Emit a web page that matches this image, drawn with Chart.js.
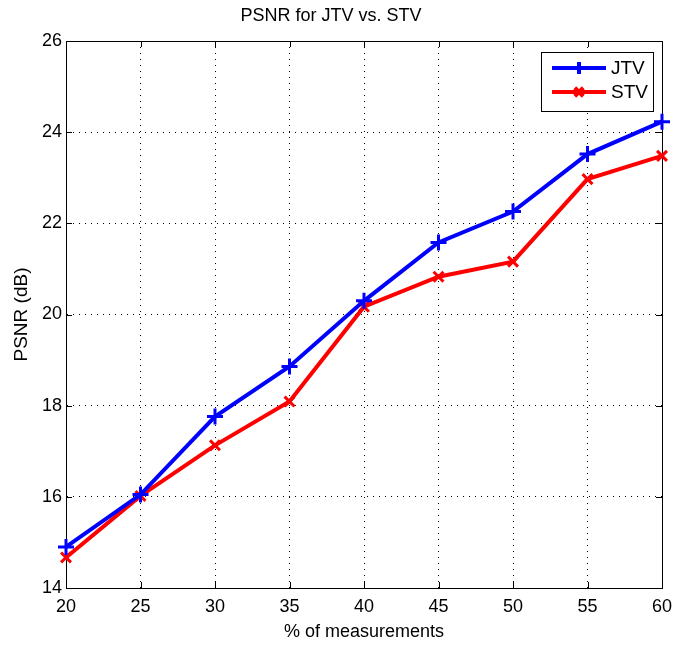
<!DOCTYPE html>
<html lang="en">
  <head>
    <meta charset="UTF-8" />
    <title>PSNR for JTV vs. STV</title>
    <script src="https://cdn.jsdelivr.net/npm/chart.js@4.4.0/dist/chart.umd.min.js"></script>
    <style>
      body { margin: 0; background: #fff; }
      #wrap { width: 675px; height: 648px; }
    </style>
  </head>
  <body>
    <div id="wrap"><canvas id="chart" width="675" height="648"></canvas></div>
    <script>
      // % of measurements
      const percent = [20, 25, 30, 35, 40, 45, 50, 55, 60];
      // PSNR (dB)
      const jtv = [14.9, 16.05, 17.76, 18.86, 20.3, 21.58, 22.26, 23.52, 24.23];
      const stv = [14.67, 16.02, 17.13, 18.09, 20.17, 20.83, 21.16, 22.97, 23.48];
      const xTicks = [20, 25, 30, 35, 40, 45, 50, 55, 60];
      const yTicks = [14, 16, 18, 20, 22, 24, 26];

      const sans = "'Liberation Sans', Arial, Helvetica, sans-serif";

      // matlab style box, inner ticks and legend
      const matlabBox = {
        id: 'matlabBox',
        beforeDatasetsDraw(chart) {
          const { ctx, chartArea: a, scales } = chart;
          ctx.save();
          ctx.strokeStyle = '#000';
          ctx.lineWidth = 1;
          ctx.setLineDash([]);
          ctx.strokeRect(a.left + 0.5, a.top + 0.5, a.right - a.left, a.bottom - a.top);
          const tl = 6;
          ctx.beginPath();
          xTicks.forEach(v => {
            const x = Math.round(scales.x.getPixelForValue(v)) + 0.5;
            ctx.moveTo(x, a.bottom); ctx.lineTo(x, a.bottom - tl);
            ctx.moveTo(x, a.top); ctx.lineTo(x, a.top + tl);
          });
          yTicks.forEach(v => {
            const y = Math.round(scales.y.getPixelForValue(v)) + 0.5;
            ctx.moveTo(a.left, y); ctx.lineTo(a.left + tl, y);
            ctx.moveTo(a.right, y); ctx.lineTo(a.right - tl, y);
          });
          ctx.stroke();
          ctx.restore();
        },
        afterDatasetsDraw(chart) {
          const { ctx } = chart;
          const bx = 541, by = 52, bw = 112, bh = 59;
          ctx.save();
          ctx.fillStyle = '#fff';
          ctx.fillRect(bx, by, bw, bh);
          ctx.strokeStyle = '#000';
          ctx.lineWidth = 1;
          ctx.strokeRect(bx + 0.5, by + 0.5, bw, bh);
          chart.data.datasets.forEach((ds, i) => {
            const y = 68 + i * 24;
            ctx.strokeStyle = ds.borderColor;
            ctx.lineWidth = 4;
            ctx.beginPath();
            ctx.moveTo(552, y); ctx.lineTo(606, y);
            ctx.stroke();
            Chart.helpers.drawPoint(ctx, {
              pointStyle: ds.pointStyle, radius: 6, borderWidth: 3
            }, 579, y);
            ctx.fillStyle = '#000';
            ctx.font = '19px ' + sans;
            ctx.textBaseline = 'middle';
            ctx.textAlign = 'left';
            ctx.fillText(ds.label, 611, y + 1);
          });
          ctx.restore();
        }
      };

      const ctx = document.getElementById('chart').getContext('2d');
      const chart = new Chart(ctx, {
        type: 'line',
        data: {
          datasets: [
            {
              label: 'JTV',
              data: percent.map((p, i) => ({ x: p, y: jtv[i] })),
              borderColor: '#0000ff',
              backgroundColor: '#0000ff',
              pointStyle: 'cross',
              pointRadius: 8,
              pointBorderWidth: 3,
              borderWidth: 4,
              tension: 0,
              clip: false
            },
            {
              label: 'STV',
              data: percent.map((p, i) => ({ x: p, y: stv[i] })),
              borderColor: '#ff0000',
              backgroundColor: '#ff0000',
              pointStyle: 'crossRot',
              pointRadius: 7,
              pointBorderWidth: 3,
              borderWidth: 4,
              tension: 0,
              clip: false
            }
          ]
        },
        options: {
          responsive: false,
          animation: false,
          layout: { padding: { left: 0, right: 13, top: 0, bottom: 0 } },
          plugins: {
            legend: { display: false },
            tooltip: { enabled: false },
            title: {
              display: true,
              text: 'PSNR for JTV vs. STV',
              color: '#000',
              font: { family: sans, size: 18, weight: 'normal' },
              padding: { top: 5, bottom: 14.4 }
            }
          },
          scales: {
            x: {
              type: 'linear',
              min: 20,
              max: 60,
              afterFit: s => { s.height = 60; s.paddingLeft = 0; s.paddingRight = 0; },
              afterBuildTicks: s => { s.ticks = xTicks.map(v => ({ value: v })); },
              ticks: { color: '#000', font: { family: sans, size: 18 }, padding: 8, maxRotation: 0 },
              grid: { color: '#000', lineWidth: 1, drawTicks: false },
              border: { display: true, color: '#000', width: 1, dash: [1, 5] },
              title: {
                display: true,
                text: '% of measurements',
                color: '#000',
                font: { family: sans, size: 18 },
                padding: { top: 0, bottom: 5 }
              }
            },
            y: {
              min: 14,
              max: 26,
              afterFit: s => { s.width = 66; s.paddingTop = 0; s.paddingBottom = 0; },
              afterBuildTicks: s => { s.ticks = yTicks.map(v => ({ value: v })); },
              ticks: { color: '#000', font: { family: sans, size: 18 }, padding: 4 },
              grid: { color: '#000', lineWidth: 1, drawTicks: false },
              border: { display: true, color: '#000', width: 1, dash: [1, 5] },
              title: {
                display: true,
                text: 'PSNR (dB)',
                color: '#000',
                font: { family: sans, size: 19 },
                padding: { top: 10, bottom: 0 }
              }
            }
          }
        },
        plugins: [matlabBox]
      });
    </script>
  </body>
</html>
